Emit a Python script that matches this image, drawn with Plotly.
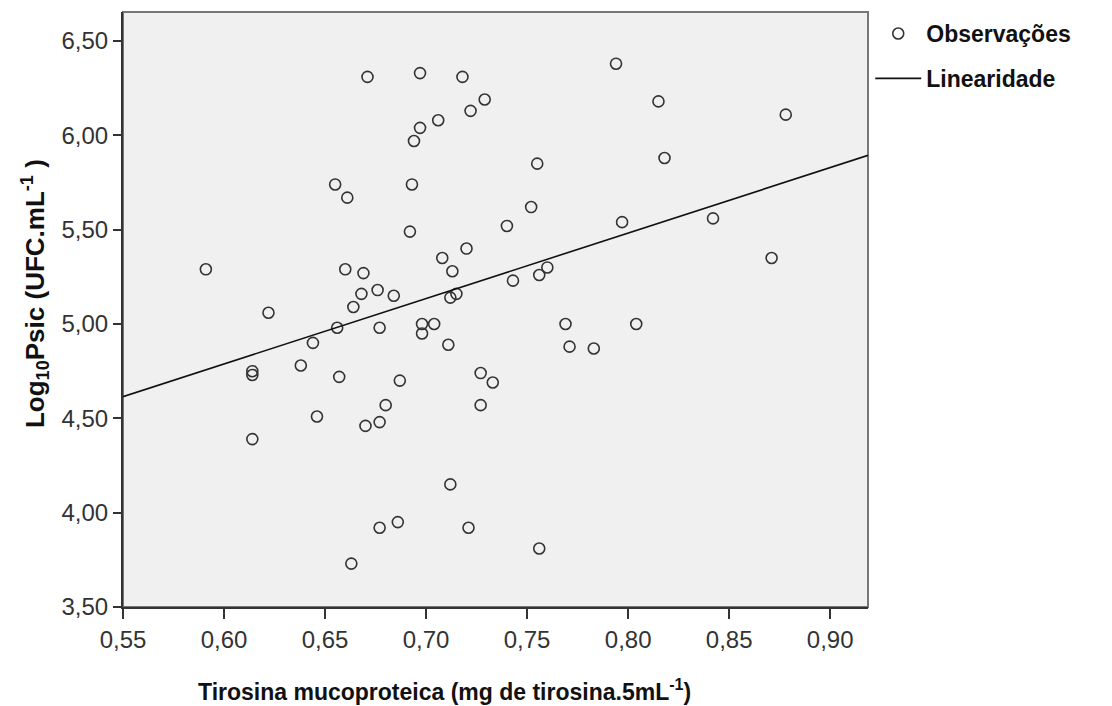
import plotly.graph_objects as go
import numpy as np

# Tirosina mucoproteica (mg de tirosina.5mL-1)
tirosina = [0.671, 0.697, 0.718, 0.729, 0.722, 0.706, 0.697, 0.694, 0.655, 0.661,
            0.693, 0.692, 0.720, 0.708, 0.713, 0.715, 0.712, 0.591, 0.660, 0.669,
            0.676, 0.668, 0.684, 0.664, 0.622, 0.656, 0.677, 0.698, 0.704, 0.698,
            0.644, 0.711, 0.614, 0.614, 0.638, 0.657, 0.687, 0.727, 0.733, 0.680,
            0.727, 0.646, 0.677, 0.670, 0.614, 0.712, 0.686, 0.677, 0.721, 0.663,
            0.794, 0.815, 0.878, 0.755, 0.818, 0.752, 0.740, 0.797, 0.842, 0.871,
            0.760, 0.756, 0.743, 0.769, 0.804, 0.771, 0.783, 0.756]
# Log10 Psic (UFC.mL-1)
log_psic = [6.31, 6.33, 6.31, 6.19, 6.13, 6.08, 6.04, 5.97, 5.74, 5.67,
            5.74, 5.49, 5.40, 5.35, 5.28, 5.16, 5.14, 5.29, 5.29, 5.27,
            5.18, 5.16, 5.15, 5.09, 5.06, 4.98, 4.98, 5.00, 5.00, 4.95,
            4.90, 4.89, 4.75, 4.73, 4.78, 4.72, 4.70, 4.74, 4.69, 4.57,
            4.57, 4.51, 4.48, 4.46, 4.39, 4.15, 3.95, 3.92, 3.92, 3.73,
            6.38, 6.18, 6.11, 5.85, 5.88, 5.62, 5.52, 5.54, 5.56, 5.35,
            5.30, 5.26, 5.23, 5.00, 5.00, 4.88, 4.87, 3.81]

# fitted line (intercept, slope)
line_coef = [2.707, 3.469]
x_range = [0.55, 0.9187]
y_range = [3.50, 6.654]
x_ticks = [0.55, 0.60, 0.65, 0.70, 0.75, 0.80, 0.85, 0.90]
y_ticks = [3.50, 4.00, 4.50, 5.00, 5.50, 6.00, 6.50]

FONT = "Liberation Sans, Arial, sans-serif"
line_x = np.array(x_range)
line_y = line_coef[0] + line_coef[1] * line_x

fig = go.Figure()
fig.add_trace(go.Scatter(
    x=tirosina, y=log_psic, mode="markers", name="Observações",
    marker=dict(symbol="circle-open", size=11, color="#333333",
                line=dict(width=1.6, color="#333333")),
    legendgroup="a",
))
fig.add_trace(go.Scatter(
    x=line_x, y=line_y, mode="lines", name="Linearidade",
    line=dict(color="#111111", width=1.6),
    legendgroup="b",
))

fig.update_layout(
    width=1112, height=706,
    margin=dict(l=123, r=244, t=12, b=99, autoexpand=False),
    paper_bgcolor="white", plot_bgcolor="#F0F0F0",
    separators=",.",
    font=dict(family=FONT, color="#333333", size=24),
    showlegend=True,
    legend=dict(x=1.003, xanchor="left", y=1.0, yanchor="top",
                font=dict(family=FONT, size=23, color="#111111", weight="bold"),
                tracegroupgap=12, bgcolor="rgba(0,0,0,0)", itemwidth=46),
    shapes=[dict(type="rect", xref="paper", yref="paper", x0=0, x1=1, y0=0, y1=1,
                 line=dict(color="#777777", width=2), layer="below")],
    annotations=[
        dict(text="<b>Tirosina mucoproteica (mg de tirosina.5mL<sup>-1</sup>)</b>",
             xref="paper", yref="paper", x=0.432, y=-0.139, showarrow=False,
             xanchor="center", yanchor="middle",
             font=dict(family=FONT, size=23, color="#111111")),
        dict(text="<b>Log<sub>10</sub>Psic (UFC.mL<sup>-1</sup> )</b>",
             xref="paper", yref="paper", x=-0.118, y=0.526, showarrow=False,
             textangle=-90, xanchor="center", yanchor="middle",
             font=dict(family=FONT, size=26, color="#111111")),
    ],
)
fig.update_xaxes(range=x_range, tickvals=x_ticks, tickformat=".2f",
                 showgrid=False, zeroline=False, showline=True,
                 linecolor="#333333", linewidth=2,
                 ticks="outside", ticklen=10, tickwidth=2, tickcolor="#333333",
                 tickfont=dict(size=24, color="#333333"))
fig.update_yaxes(range=y_range, tickvals=y_ticks, tickformat=".2f",
                 showgrid=False, zeroline=False, showline=True,
                 linecolor="#333333", linewidth=2,
                 ticks="outside", ticklen=8, tickwidth=2, tickcolor="#333333",
                 tickfont=dict(size=24, color="#333333"))

fig.write_html("out.html")
